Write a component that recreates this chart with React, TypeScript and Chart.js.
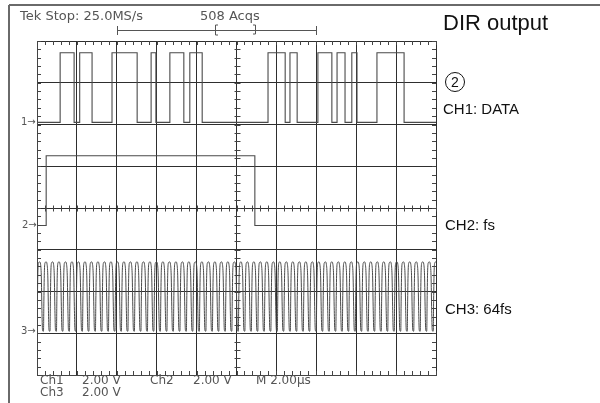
import React, { useEffect, useRef } from "react";
import { Chart, registerables } from "chart.js";

Chart.register(...registerables);

// Time axis in divisions (2.00 µs/div), vertical axis in divisions (2.00 V/div)
const xDivisions = 10;
const yDivisions = 8;

// CH1: DATA — transition times (div), starts low
const ch1Edges = [0.58, 0.93, 1.07, 1.38, 1.88, 2.51, 2.86, 2.98, 3.33, 3.68, 3.83, 4.14, 5.79, 6.22, 6.34, 6.52, 7.04, 7.39, 7.52, 7.72, 7.89, 8.02, 8.52, 9.2];
const ch1Low = 6.05;
const ch1High = 7.72;

// CH2: fs — transition times (div), starts low
const ch2Edges = [0.23, 5.46];
const ch2Low = 3.58;
const ch2High = 5.25;

// CH3: 64fs — start time of each clock cycle (div)
const ch3CycleStarts = [0, 0.163, 0.326, 0.488, 0.651, 0.814, 0.977, 1.14, 1.302, 1.465, 1.628, 1.791, 1.954, 2.116, 2.279, 2.442, 2.605, 2.768, 2.93, 3.093, 3.256, 3.419, 3.582, 3.744, 3.907, 4.07, 4.233, 4.396, 4.558, 4.721, 4.884, 5.047, 5.21, 5.372, 5.535, 5.698, 5.861, 6.024, 6.186, 6.349, 6.512, 6.675, 6.838, 7.0, 7.163, 7.326, 7.489, 7.652, 7.814, 7.977, 8.14, 8.303, 8.466, 8.628, 8.791, 8.954, 9.117, 9.28, 9.442, 9.605, 9.768, 9.931];
const ch3Low = 1.05;
const ch3High = 2.71;

// shape of one clock cycle: [fraction of period, fraction of amplitude]
const ch3CycleShape: [number, number][] = [
  [0, 0],
  [0.06, 0.45],
  [0.14, 0.88],
  [0.26, 0.99],
  [0.4, 1],
  [0.54, 0.97],
  [0.66, 0.8],
  [0.76, 0.3],
  [0.84, 0.02],
  [0.92, 0],
];

function squareWave(edges: number[], low: number, high: number) {
  const pts: { x: number; y: number }[] = [{ x: 0, y: low }];
  let level = low;
  for (const t of edges) {
    pts.push({ x: t, y: level });
    level = level === low ? high : low;
    pts.push({ x: t, y: level });
  }
  pts.push({ x: xDivisions, y: level });
  return pts;
}

function clockWave(starts: number[], low: number, high: number) {
  const pts: { x: number; y: number }[] = [];
  const amp = high - low;
  for (let i = 0; i < starts.length; i++) {
    const t = starts[i];
    const next = i + 1 < starts.length ? starts[i + 1] : t + (t - starts[i - 1]);
    const p = next - t;
    for (const [fx, fy] of ch3CycleShape) pts.push({ x: t + p * fx, y: low + amp * fy });
  }
  return pts;
}

const decorPlugin = {
  id: "decor",
  afterDraw(chart: any) {
    const { ctx, scales, chartArea } = chart;
    const x = scales.x;
    const y = scales.y;
    const { left, right, top, bottom } = chartArea;
    ctx.save();
    ctx.strokeStyle = "#444";
    ctx.lineWidth = 1;
    const seg = (x1: number, y1: number, x2: number, y2: number) => {
      ctx.beginPath();
      ctx.moveTo(x1, y1);
      ctx.lineTo(x2, y2);
      ctx.stroke();
    };
    const yc = Math.round(y.getPixelForValue(yDivisions / 2)) + 0.5;
    const xc = Math.round(x.getPixelForValue(xDivisions / 2)) + 0.5;
    for (let i = 0; i <= xDivisions * 5; i++) {
      const px = Math.round(x.getPixelForValue(i / 5)) + 0.5;
      seg(px, top, px, top + 4);
      seg(px, bottom - 4, px, bottom);
      seg(px, yc - 3, px, yc + 3);
    }
    for (let i = 0; i <= yDivisions * 5; i++) {
      const py = Math.round(y.getPixelForValue(i / 5)) + 0.5;
      seg(left, py, left + 4, py);
      seg(right - 4, py, right, py);
      seg(xc - 3, py, xc + 3, py);
    }
    // outer frame
    ctx.strokeStyle = "#6a6a6a";
    ctx.lineWidth = 2;
    seg(9, 5, 600, 5);
    seg(9, 5, 9, 403);
    // record indicator bracket
    ctx.strokeStyle = "#555";
    ctx.lineWidth = 1;
    seg(117, 30.5, 316, 30.5);
    seg(117.5, 26, 117.5, 35);
    seg(316.5, 26, 316.5, 35);
    seg(215.5, 25, 215.5, 35);
    seg(215.5, 25, 218, 25);
    seg(215.5, 35, 218, 35);
    seg(255.5, 25, 255.5, 34);
    seg(253, 25, 255.5, 25);
    seg(253, 34, 255.5, 34);
    ctx.restore();
  },
};

const scopeFont = '"DejaVu Sans", sans-serif';
const labelFont = '"Liberation Sans", Arial, sans-serif';

function T(props: { left: number; top: number; size: number; font: string; color: string; children: React.ReactNode }) {
  return (
    <div
      style={{
        position: "absolute",
        left: props.left,
        top: props.top,
        fontSize: props.size,
        lineHeight: 1,
        fontFamily: props.font,
        color: props.color,
        whiteSpace: "pre",
      }}
    >
      {props.children}
    </div>
  );
}

export default function App() {
  const ref = useRef<HTMLCanvasElement | null>(null);
  useEffect(() => {
    if (!ref.current) return;
    const trace = "#4a4a4a";
    const chart = new Chart(ref.current, {
      type: "line",
      data: {
        datasets: [
          { label: "CH1: DATA", data: squareWave(ch1Edges, ch1Low, ch1High), borderColor: trace, borderWidth: 1.1, pointRadius: 0, tension: 0, fill: false },
          { label: "CH2: fs", data: squareWave(ch2Edges, ch2Low, ch2High), borderColor: trace, borderWidth: 1.1, pointRadius: 0, tension: 0, fill: false },
          { label: "CH3: 64fs", data: clockWave(ch3CycleStarts, ch3Low, ch3High), borderColor: trace, borderWidth: 1, pointRadius: 0, cubicInterpolationMode: "monotone", fill: false },
        ],
      },
      options: {
        animation: false,
        responsive: false,
        maintainAspectRatio: false,
        layout: { padding: { left: 37, top: 41, right: 164, bottom: 28 } },
        plugins: { legend: { display: false }, tooltip: { enabled: false }, title: { display: false } },
        scales: {
          x: {
            type: "linear",
            min: 0,
            max: xDivisions,
            ticks: { display: false, stepSize: 1 },
            grid: { color: "#2e2e2e", lineWidth: 1, drawTicks: false },
            border: { display: true, color: "#444", width: 1 },
          },
          y: {
            type: "linear",
            min: 0,
            max: yDivisions,
            ticks: { display: false, stepSize: 1 },
            grid: { color: "#2e2e2e", lineWidth: 1, drawTicks: false },
            border: { display: true, color: "#444", width: 1 },
          },
        },
      },
      plugins: [decorPlugin],
    } as any);
    return () => chart.destroy();
  }, []);

  const g = "#555";
  return (
    <div style={{ position: "fixed", left: 0, top: 0, width: 600, height: 403, background: "#fff", overflow: "hidden" }}>
      <canvas ref={ref} width={600} height={403} style={{ position: "absolute", left: 0, top: 0, width: 600, height: 403 }} />
      <T left={20} top={8.5} size={13} font={scopeFont} color={g}>Tek Stop: 25.0MS/s</T>
      <T left={200} top={8.5} size={13} font={scopeFont} color={g}>508 Acqs</T>
      <T left={21} top={117} size={10} font={scopeFont} color={g}>1→</T>
      <T left={22} top={220} size={10} font={scopeFont} color={g}>2→</T>
      <T left={21} top={326} size={10} font={scopeFont} color={g}>3→</T>
      <T left={40} top={374} size={12} font={scopeFont} color={g}>Ch1</T>
      <T left={82} top={374} size={12} font={scopeFont} color={g}>2.00 V</T>
      <T left={150} top={374} size={12} font={scopeFont} color={g}>Ch2</T>
      <T left={193} top={374} size={12} font={scopeFont} color={g}>2.00 V</T>
      <T left={256} top={374} size={12} font={scopeFont} color={g}>M 2.00µs</T>
      <T left={40} top={385.5} size={12} font={scopeFont} color={g}>Ch3</T>
      <T left={82} top={385.5} size={12} font={scopeFont} color={g}>2.00 V</T>
      <T left={443} top={12} size={22} font={labelFont} color="#111">DIR output</T>
      <div
        style={{
          position: "absolute",
          left: 445,
          top: 72,
          width: 18,
          height: 18,
          border: "1px solid #111",
          borderRadius: "50%",
          fontFamily: labelFont,
          fontSize: 14,
          lineHeight: "18px",
          textAlign: "center",
          color: "#111",
        }}
      >
        2
      </div>
      <T left={443} top={101} size={15} font={labelFont} color="#111">CH1: DATA</T>
      <T left={445} top={216.5} size={15} font={labelFont} color="#111">CH2: fs</T>
      <T left={445} top={301} size={15} font={labelFont} color="#111">CH3: 64fs</T>
    </div>
  );
}
